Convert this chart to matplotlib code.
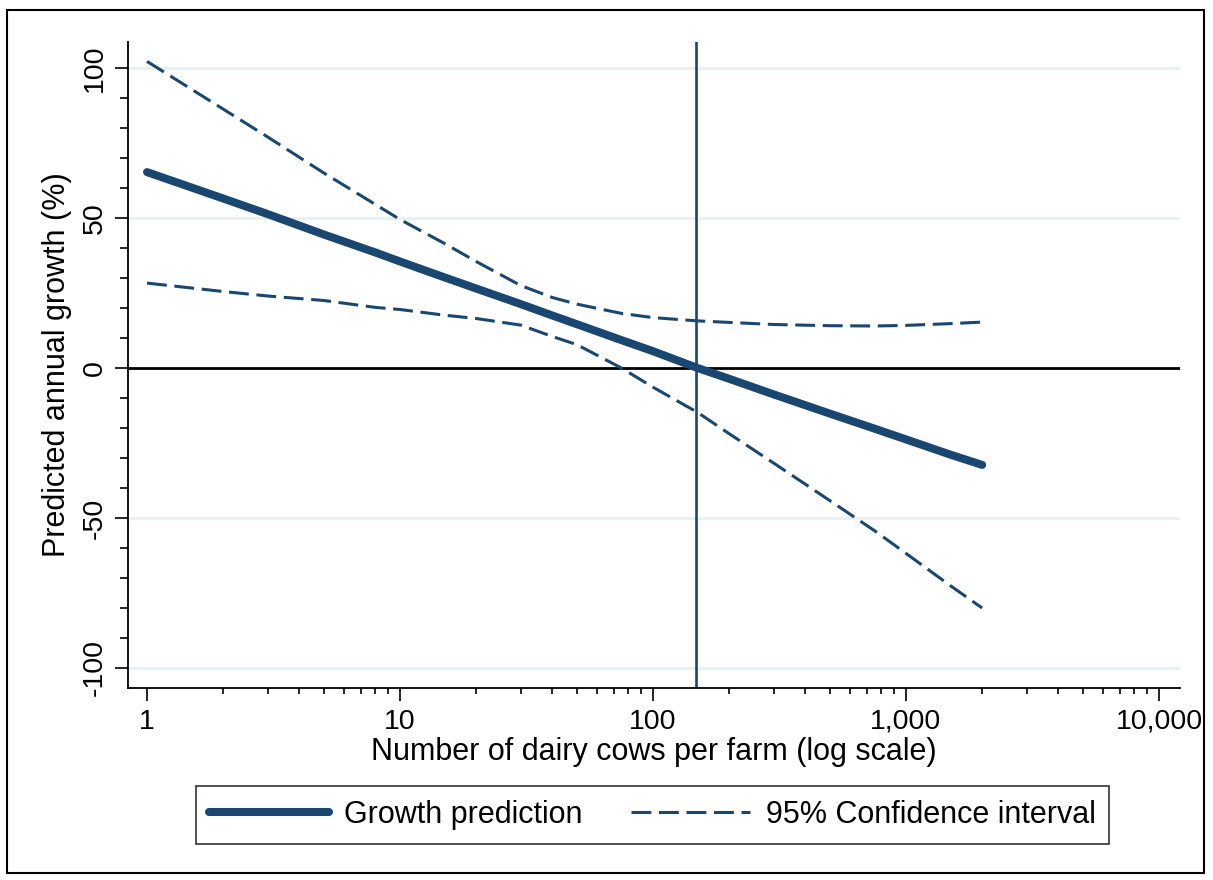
import numpy as np
import matplotlib.pyplot as plt
from matplotlib.patches import Rectangle
from matplotlib.ticker import FixedLocator, NullFormatter

plt.rcParams['font.family'] = ['Liberation Sans', 'DejaVu Sans']
plt.rcParams['axes.unicode_minus'] = False

# cows per farm (log scale) and predicted growth (%)
cows = [1, 2, 3, 5, 8, 10, 15, 20, 30, 40, 50, 75, 100, 150, 200, 300, 500, 750, 1000, 1500, 2000]
growth = [65.3, 56.5, 51.3, 44.5, 38.5, 35.5, 30.2, 26.5, 21.3, 17.5, 14.6, 9.3, 5.6, 0.0,
          -3.6, -8.8, -15.2, -20.2, -23.8, -28.9, -32.3]
ci_upper = [102.2, 86.3, 77.0, 65.0, 54.5, 49.5, 41.5, 35.5, 27.5, 23.5, 21.3, 18.2, 16.8, 15.7,
            15.2, 14.5, 14.1, 14.0, 14.2, 14.8, 15.3]
ci_lower = [28.3, 25.5, 24.0, 22.5, 20.2, 19.5, 17.6, 16.5, 14.3, 10.5, 7.8, 0.0, -6.4, -14.8,
            -21.9, -31.7, -44.2, -54.2, -61.8, -72.6, -80.0]
threshold = 148

xticks = [1, 10, 100, 1000, 10000]
xticklabels = ["1", "10", "100", "1,000", "10,000"]
yticks = [-100, -50, 0, 50, 100]

navy = "#1a476f"

fig = plt.figure(figsize=(12.13, 8.8), dpi=100)
ax = fig.add_axes([128/1213, 1-688/880, 1052/1213, 646/880])

for y in [-100, -50, 50, 100]:
    ax.axhline(y, color="#e6eff1", lw=1.8, zorder=0)
ax.axhline(0, color="black", lw=2.0, zorder=1)
ax.axvline(threshold, color=navy, lw=1.9, zorder=1)

ax.plot(cows, growth, color=navy, lw=5.8, solid_capstyle="round", zorder=3,
        label="Growth prediction")
ax.plot(cows, ci_upper, color=navy, lw=2.2, dashes=(6.5, 2.5), zorder=2,
        label="95% Confidence interval")
ax.plot(cows, ci_lower, color=navy, lw=2.2, dashes=(6.5, 2.5), zorder=2)

ax.set_xscale("log")
ax.set_xlim(0.841, 12110)
ax.set_ylim(-106.67, 108.67)

ax.xaxis.set_major_locator(FixedLocator(xticks))
ax.set_xticklabels(xticklabels)
minors = [m * 10**e for e in range(0, 4) for m in range(2, 10)]
ax.xaxis.set_minor_locator(FixedLocator(minors))
ax.xaxis.set_minor_formatter(NullFormatter())
ax.yaxis.set_major_locator(FixedLocator(yticks))
ax.yaxis.set_minor_locator(FixedLocator([v for v in range(-100, 101, 10) if v % 50]))

ax.tick_params(axis="both", which="major", labelsize=20.5, width=1.2, color="black")
ax.tick_params(axis="x", which="major", length=9, pad=6)
ax.tick_params(axis="x", which="minor", length=4.5, width=1.2)
ax.tick_params(axis="y", which="major", length=9.5, pad=5)
ax.tick_params(axis="y", which="minor", length=6, width=1.2)
for lbl in ax.get_yticklabels():
    lbl.set_rotation(90)
    lbl.set_va("center")

for s in ["top", "right"]:
    ax.spines[s].set_visible(False)
for s in ["left", "bottom"]:
    ax.spines[s].set_linewidth(1.3)

ax.set_xlabel("Number of dairy cows per farm (log scale)", fontsize=22)
ax.xaxis.set_label_coords(0.5, -0.076)
ax.set_ylabel("Predicted annual growth (%)", fontsize=22)
ax.yaxis.set_label_coords(-0.053, 0.5)

leg = fig.legend(loc="center", bbox_to_anchor=(652.5/1213, 1-815/880), ncol=2,
                 fontsize=22, frameon=True, fancybox=False, handlelength=3.9,
                 handletextpad=0.5, columnspacing=1.6, borderpad=0.45)
leg.get_frame().set_edgecolor("black")
leg.get_frame().set_linewidth(1.2)

fig.patches.append(Rectangle((7/1213, 1-873/880), 1197/1213, 863/880, transform=fig.transFigure,
                             fill=False, edgecolor="black", lw=1.5))

fig.savefig("out.png", dpi=100)
